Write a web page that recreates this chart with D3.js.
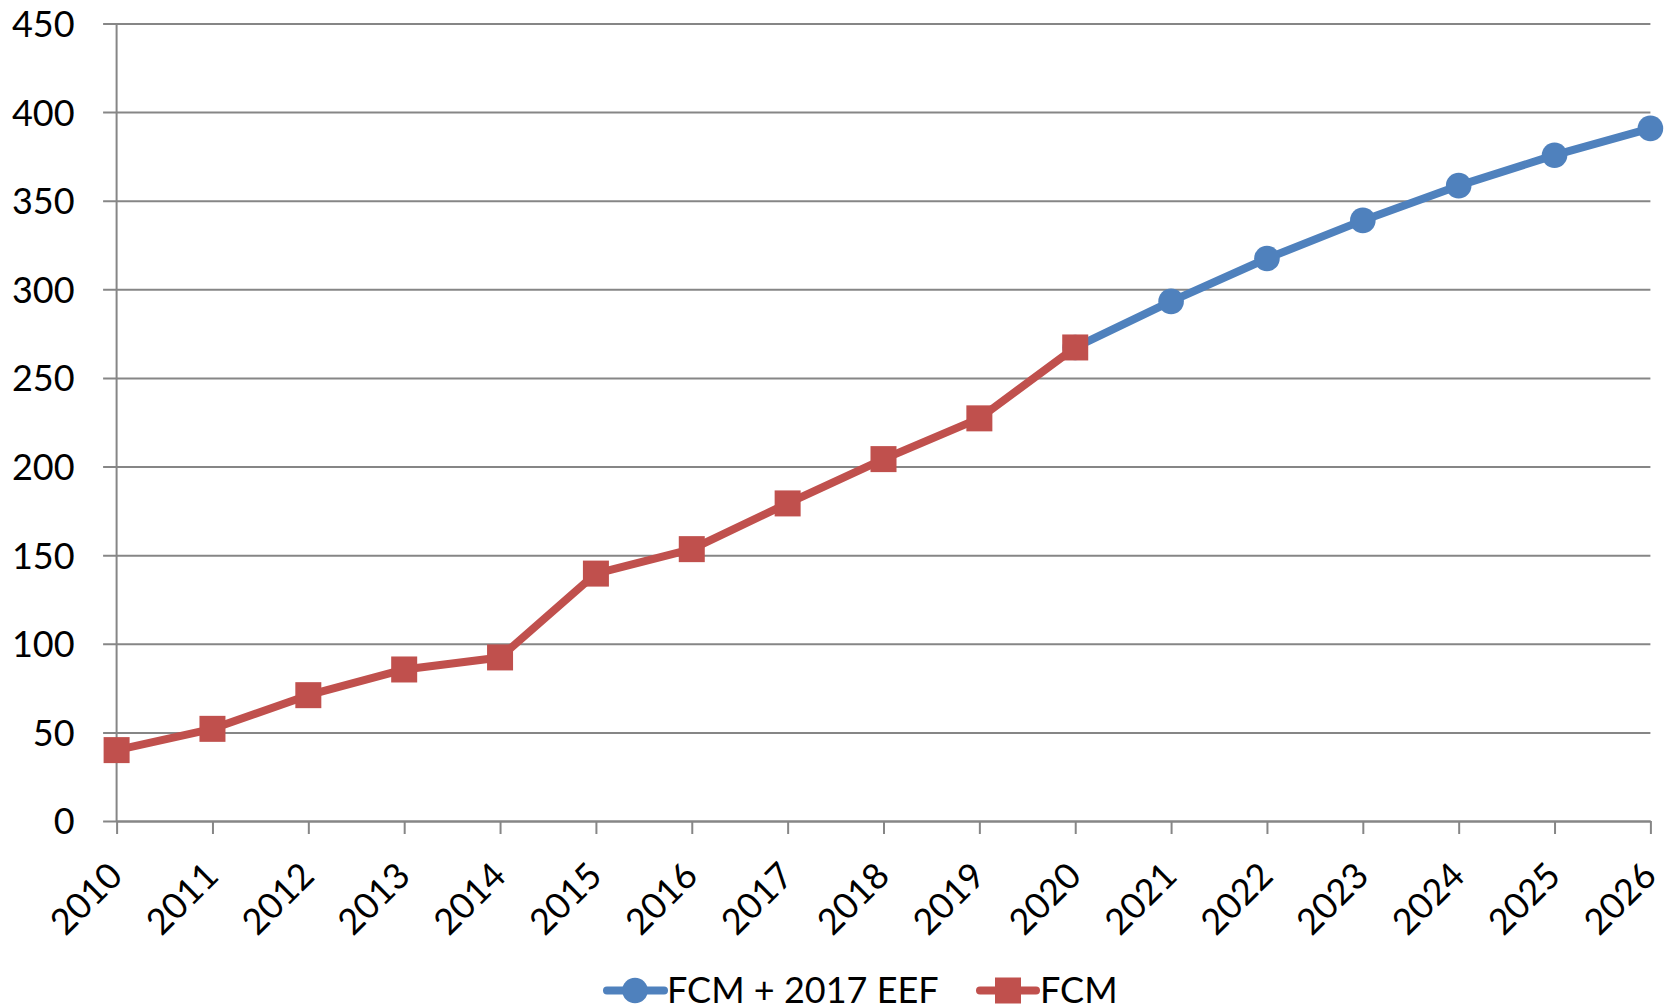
<!DOCTYPE html>
<html>
<head>
<meta charset="utf-8">
<script src="https://cdn.jsdelivr.net/npm/d3@7"></script>
<style>
  body { margin: 0; padding: 0; background: #fff; }
  svg { display: block; }
  text { font-family: Lato, "Open Sans", sans-serif; fill: #000; }
</style>
</head>
<body>
<svg id="chart" width="1675" height="1007"></svg>
<script>
// data
const years = [2010, 2011, 2012, 2013, 2014, 2015, 2016, 2017, 2018,
               2019, 2020, 2021, 2022, 2023, 2024, 2025, 2026];
const fcmYears = [2010, 2011, 2012, 2013, 2014, 2015, 2016, 2017, 2018, 2019, 2020];
const fcmValues = [40, 52, 71, 85.5, 92.3, 139.6, 153.4, 179.2, 204.2, 227.2, 267.2];
const eefYears = [2020, 2021, 2022, 2023, 2024, 2025, 2026];
const eefValues = [267.2, 293.2, 317.4, 338.9, 358.5, 375.7, 390.8];
const yTicks = [0, 50, 100, 150, 200, 250, 300, 350, 400, 450];
const seriesNames = ["FCM + 2017 EEF", "FCM"];

const blue = "#4F81BD", red = "#C0504D", grid = "#868686";

const svg = d3.select("#chart");
const plotL = 116.6, plotR = 1650.4, plotT = 23.5, plotB = 821;

const x = d3.scalePoint().domain(years).range([plotL, plotR]);
const y = d3.scaleLinear().domain([0, 450]).range([plotB, plotT]);

// gridlines + y axis
const yAxis = d3.axisLeft(y).tickValues(yTicks).tickSize(-(plotR - plotL)).tickPadding(0);
const gy = svg.append("g").attr("transform", `translate(${plotL},0)`).call(yAxis);
gy.select(".domain").remove();
gy.selectAll(".tick line")
  .attr("x1", -13.5)
  .attr("stroke", grid).attr("stroke-width", 2);
gy.selectAll(".tick text")
  .attr("x", -42).attr("dy", "0.36em")
  .style("font-size", "36px").style("font-family", "Lato");

// y axis line
svg.append("line")
  .attr("x1", plotL).attr("x2", plotL).attr("y1", plotT).attr("y2", plotB)
  .attr("stroke", grid).attr("stroke-width", 2);

// x axis
const xAxis = d3.axisBottom(x).tickSize(13).tickSizeOuter(0);
const gx = svg.append("g").attr("transform", `translate(0,${plotB})`).call(xAxis);
gx.select(".domain").attr("stroke", grid).attr("stroke-width", 2);
gx.selectAll(".tick line").attr("stroke", grid).attr("stroke-width", 2);
gx.selectAll(".tick text").remove();

svg.append("g").selectAll("text")
  .data(years)
  .enter()
  .append("text")
  .attr("transform", d => `translate(${x(d) + 8},${plotB + 57}) rotate(-45)`)
  .attr("text-anchor", "end")
  .style("font-size", "36px")
  .text(d => d);

// lines
const line = d3.line().x(d => x(d[0])).y(d => y(d[1]));
const eefPts = eefYears.map((d, i) => [d, eefValues[i]]);
const fcmPts = fcmYears.map((d, i) => [d, fcmValues[i]]);

svg.append("path")
  .attr("d", line(eefPts))
  .attr("fill", "none").attr("stroke", blue).attr("stroke-width", 8)
  .attr("stroke-linejoin", "round");
svg.append("g").selectAll("circle")
  .data(eefPts)
  .enter()
  .append("circle")
  .attr("cx", d => x(d[0])).attr("cy", d => y(d[1]))
  .attr("r", 12.8).attr("fill", blue);

svg.append("path")
  .attr("d", line(fcmPts))
  .attr("fill", "none").attr("stroke", red).attr("stroke-width", 8)
  .attr("stroke-linejoin", "round");
const sq = 26;
svg.append("g").selectAll("rect")
  .data(fcmPts)
  .enter()
  .append("rect")
  .attr("x", d => x(d[0]) - sq / 2).attr("y", d => y(d[1]) - sq / 2)
  .attr("width", sq).attr("height", sq).attr("fill", red);

// legend
const ly = 990.5;
const lg = svg.append("g");
lg.append("line").attr("x1", 607).attr("x2", 664).attr("y1", ly).attr("y2", ly)
  .attr("stroke", blue).attr("stroke-width", 8).attr("stroke-linecap", "round");
lg.append("circle").attr("cx", 635).attr("cy", ly).attr("r", 12.8).attr("fill", blue);
lg.append("text").attr("x", 667).attr("y", ly).attr("dy", "0.36em")
  .style("font-size", "36px").text(seriesNames[0]);

lg.append("line").attr("x1", 980).attr("x2", 1036).attr("y1", ly).attr("y2", ly)
  .attr("stroke", red).attr("stroke-width", 8).attr("stroke-linecap", "round");
lg.append("rect").attr("x", 1008 - sq / 2).attr("y", ly - sq / 2)
  .attr("width", sq).attr("height", sq).attr("fill", red);
lg.append("text").attr("x", 1040).attr("y", ly).attr("dy", "0.36em")
  .style("font-size", "36px").text(seriesNames[1]);
</script>
</body>
</html>
